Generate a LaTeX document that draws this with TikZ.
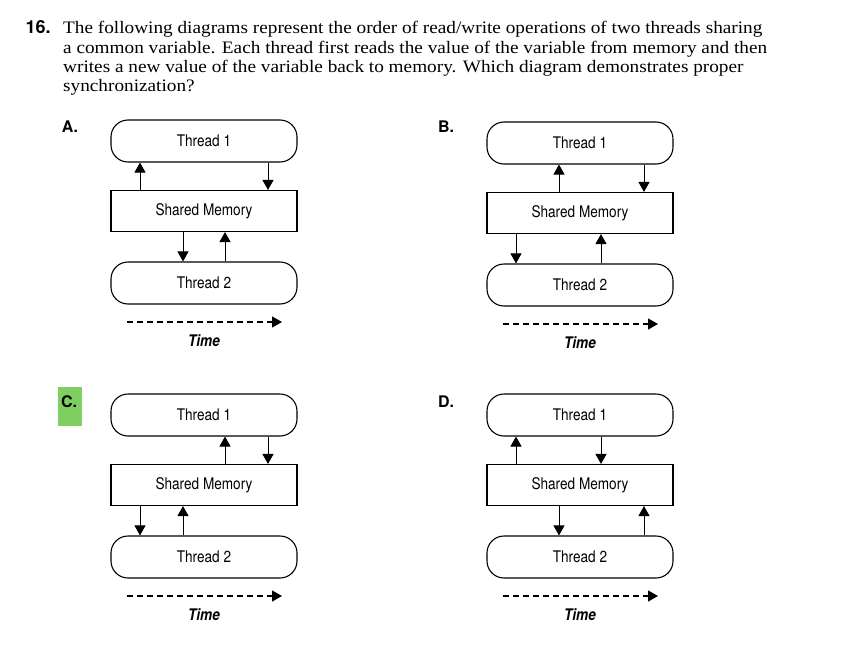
\documentclass[tikz,border=0pt]{standalone}
\usepackage{fontspec}
\setmainfont{Liberation Serif}
\newfontfamily\qfont[FakeStretch=1.1]{Liberation Serif}
\newfontfamily\labfont{TeX Gyre Heros}
\newfontfamily\cndfont[FakeStretch=0.85]{TeX Gyre Heros}
\usepackage{tikz}
\usetikzlibrary{arrows.meta}
\definecolor{answergreen}{RGB}{126,206,98}

\begin{document}
\begin{tikzpicture}[x=1pt,y=-1pt,
                every path/.style={>={Triangle[length=10pt,width=11pt]}},
                thread/.style={draw,line width=1.1pt,rounded corners=17pt,minimum width=186pt,minimum height=42pt,inner sep=0pt,font=\cndfont\fontsize{16}{18}\selectfont},
                memory/.style={draw,line width=1.1pt,minimum width=186pt,minimum height=41pt,inner sep=0pt,font=\cndfont\fontsize{16}{18}\selectfont},
                rw/.style={->,line width=1pt},
                timeline/.style={->,dashed,dash pattern=on 6pt off 4pt,line width=1.3pt},
                timelabel/.style={font=\cndfont\bfseries\itshape\fontsize{16}{18}\selectfont},
                letter/.style={font=\labfont\bfseries\fontsize{16}{18}\selectfont},
                question/.style={anchor=base west,inner sep=0pt,font=\qfont\fontsize{17.5}{19}\selectfont}]
  \useasboundingbox (0,0) rectangle (855,653);
  % question
  \node[letter,anchor=base west,font=\labfont\bfseries\fontsize{18}{20}\selectfont] (num) at (22,34) {16.};
  \node[question] (q1) at (63,34) {The following diagrams represent the order of read/write operations of two threads sharing};
  \node[question] (q2) at (63,53) {a common variable. Each thread first reads the value of the variable from memory and then};
  \node[question] (q3) at (63,72) {writes a new value of the variable back to memory. Which diagram demonstrates proper};
  \node[question] (q4) at (63,91) {synchronization?};

  % A
  \node[letter]    (labA) at (70,127)  {A.};
  \node[thread]    (t1A)  at (204,141) {Thread 1};
  \node[memory]    (memA) at (204,211) {Shared Memory};
  \node[thread]    (t2A)  at (204,283) {Thread 2};
  \draw[rw] ([xshift=-64pt]memA.north) -- ([xshift=-64pt]t1A.south);
  \draw[rw] ([xshift=64pt]t1A.south) -- ([xshift=64pt]memA.north);
  \draw[rw] ([xshift=-21pt]memA.south) -- ([xshift=-21pt]t2A.north);
  \draw[rw] ([xshift=21pt]t2A.north) -- ([xshift=21pt]memA.south);
  \coordinate (tsA) at (127,322);
  \coordinate (teA) at (282,322);
  \draw[timeline] (tsA) -- (teA);
  \node[timelabel] (timeA) at (204,341) {Time};

  % B
  \node[letter]    (labB) at (446,127) {B.};
  \node[thread]    (t1B)  at (580,143) {Thread 1};
  \node[memory]    (memB) at (580,213) {Shared Memory};
  \node[thread]    (t2B)  at (580,285) {Thread 2};
  \draw[rw] ([xshift=-21pt]memB.north) -- ([xshift=-21pt]t1B.south);
  \draw[rw] ([xshift=64pt]t1B.south) -- ([xshift=64pt]memB.north);
  \draw[rw] ([xshift=-64pt]memB.south) -- ([xshift=-64pt]t2B.north);
  \draw[rw] ([xshift=21pt]t2B.north) -- ([xshift=21pt]memB.south);
  \coordinate (tsB) at (503,324);
  \coordinate (teB) at (658,324);
  \draw[timeline] (tsB) -- (teB);
  \node[timelabel] (timeB) at (580,343) {Time};

  % C
  \fill[answergreen] (58,387) rectangle (82,426);
  \node[letter]    (labC) at (69,402)  {C.};
  \node[thread]    (t1C)  at (204,415) {Thread 1};
  \node[memory]    (memC) at (204,485) {Shared Memory};
  \node[thread]    (t2C)  at (204,557) {Thread 2};
  \draw[rw] ([xshift=21pt]memC.north) -- ([xshift=21pt]t1C.south);
  \draw[rw] ([xshift=64pt]t1C.south) -- ([xshift=64pt]memC.north);
  \draw[rw] ([xshift=-64pt]memC.south) -- ([xshift=-64pt]t2C.north);
  \draw[rw] ([xshift=-21pt]t2C.north) -- ([xshift=-21pt]memC.south);
  \coordinate (tsC) at (127,596);
  \coordinate (teC) at (282,596);
  \draw[timeline] (tsC) -- (teC);
  \node[timelabel] (timeC) at (204,615) {Time};

  % D
  \node[letter]    (labD) at (446,402) {D.};
  \node[thread]    (t1D)  at (580,415) {Thread 1};
  \node[memory]    (memD) at (580,485) {Shared Memory};
  \node[thread]    (t2D)  at (580,557) {Thread 2};
  \draw[rw] ([xshift=-64pt]memD.north) -- ([xshift=-64pt]t1D.south);
  \draw[rw] ([xshift=21pt]t1D.south) -- ([xshift=21pt]memD.north);
  \draw[rw] ([xshift=-21pt]memD.south) -- ([xshift=-21pt]t2D.north);
  \draw[rw] ([xshift=64pt]t2D.north) -- ([xshift=64pt]memD.south);
  \coordinate (tsD) at (503,596);
  \coordinate (teD) at (658,596);
  \draw[timeline] (tsD) -- (teD);
  \node[timelabel] (timeD) at (580,615) {Time};
\end{tikzpicture}
\end{document}
